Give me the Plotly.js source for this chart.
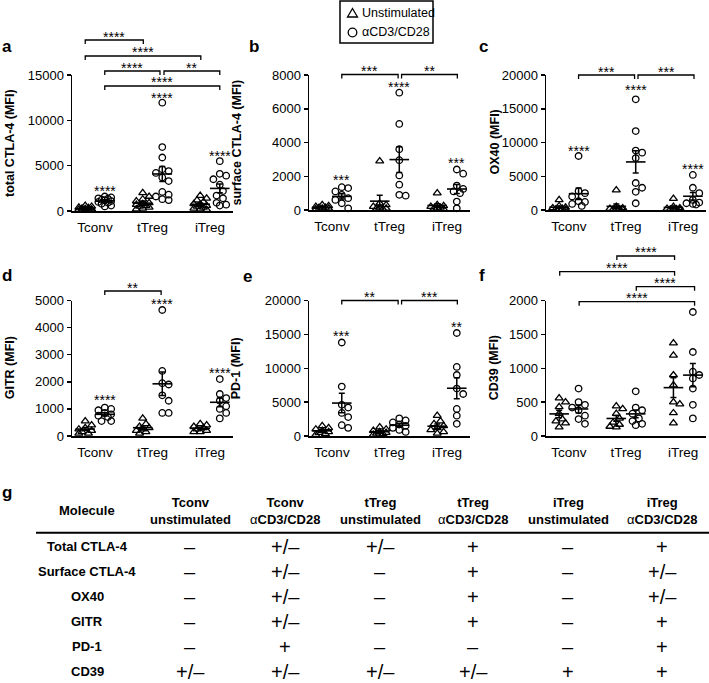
<!DOCTYPE html>
<html><head><meta charset="utf-8">
<script src="https://cdn.plot.ly/plotly-3.0.1.min.js"></script>
<style>html,body{margin:0;padding:0;background:#fff;} #chart{width:709px;height:683px;}</style>
</head><body><div id="chart"></div>
<script>
// ---------------- DATA ----------------
const groups = ['Tconv', 'tTreg', 'iTreg'];
const seriesNames = ['Unstimulated', 'αCD3/CD28'];

// a: total CTLA-4 (MFI)   [Tconv, tTreg, iTreg]
const totalCTLA4Unstim = [
  [600, 500, 400, 350, 300, 250, 200, 150, 150, 100, 100, 50],
  [2000, 1600, 1300, 1100, 900, 800, 700, 600, 500, 400, 300, 200],
  [1700, 1400, 1200, 1000, 800, 700, 600, 500, 400, 300, 200, 150]
];
const totalCTLA4Stim = [
  [1600, 1500, 1400, 1350, 1250, 1200, 1100, 1000, 900, 800, 600, 500],
  [11950, 7050, 5900, 4600, 4400, 4200, 3700, 3300, 2100, 1800, 1600, 1300, 1200],
  [5500, 4100, 3900, 3500, 2900, 2200, 1700, 1400, 900, 700, 600]
];
// b: surface CTLA-4 (MFI)
const surfaceCTLA4Unstim = [
  [300, 250, 200, 150, 150, 100, 100, 50],
  [2900, 400, 300, 200, 150, 100, 100, 50],
  [1000, 300, 250, 200, 150, 100, 100, 50]
];
const surfaceCTLA4Stim = [
  [1350, 1300, 1100, 900, 700, 600, 400, 100],
  [6950, 5100, 3600, 2950, 2050, 1500, 850, 900],
  [2400, 2150, 1450, 1250, 1100, 1000, 500, 100]
];
// c: OX40 (MFI)
const ox40Unstim = [
  [1500, 600, 400, 300, 200, 150, 100, 50],
  [2950, 500, 300, 200, 150, 100, 100, 50],
  [1700, 500, 300, 200, 150, 100, 50, 50]
];
const ox40Stim = [
  [8000, 2800, 2500, 2000, 1300, 1200, 900, 600],
  [16400, 11700, 8800, 8500, 7700, 4000, 3300, 2700, 1000],
  [5200, 3300, 2500, 1500, 1100, 1000, 900, 800]
];
// d: GITR (MFI)
const gitrUnstim = [
  [550, 400, 300, 250, 200, 150, 100, 100],
  [650, 450, 350, 300, 250, 200, 150, 100],
  [450, 400, 350, 300, 250, 200, 150, 150]
];
const gitrStim = [
  [1050, 1000, 950, 850, 800, 750, 700, 550, 550],
  [4650, 2400, 1950, 1900, 1500, 1300, 850, 850],
  [2100, 1550, 1400, 1300, 1100, 1000, 850, 650]
];
// e: PD-1 (MFI)
const pd1Unstim = [
  [1500, 1200, 1000, 800, 600, 500, 300, 200],
  [1300, 1000, 800, 600, 500, 400, 300, 200],
  [3000, 2200, 1800, 1500, 1200, 900, 600, 400]
];
const pd1Stim = [
  [13800, 7300, 4600, 4200, 3400, 2800, 1600, 1200],
  [2600, 2300, 2000, 1700, 1500, 1200, 900, 600],
  [15200, 10200, 9000, 7000, 6200, 4000, 3000, 1800]
];
// f: CD39 (MFI)
const cd39Unstim = [
  [560, 500, 430, 330, 250, 220, 190, 130],
  [440, 400, 330, 260, 200, 170, 140, 130],
  [1370, 1190, 900, 750, 500, 470, 340, 190]
];
const cd39Stim = [
  [700, 500, 460, 420, 380, 300, 250, 180],
  [660, 420, 380, 330, 260, 220, 180, 160],
  [1830, 1240, 950, 900, 850, 700, 460, 260]
];

// g: summary table
const tableMolecules = ['Total CTLA-4', 'Surface CTLA-4', 'OX40', 'GITR', 'PD-1', 'CD39'];
const tableCellTypes = ['Tconv', 'Tconv', 'tTreg', 'tTreg', 'iTreg', 'iTreg'];
const tableConditions = ['unstimulated', 'αCD3/CD28', 'unstimulated', 'αCD3/CD28', 'unstimulated', 'αCD3/CD28'];
const tableValues = [
  ['–', '+/–', '+/–', '+', '–', '+'],
  ['–', '+/–', '–', '+', '–', '+/–'],
  ['–', '+/–', '–', '+', '–', '+/–'],
  ['–', '+/–', '–', '+', '–', '+'],
  ['–', '+', '–', '–', '–', '+'],
  ['+/–', '+/–', '+/–', '+/–', '+', '+']
];

// ---------------- LAYOUT ----------------
const W = 709, H = 683;
const FONT = '"Liberation Sans", Arial, Helvetica, sans-serif';
const X = px => px / W, Y = py => 1 - py / H;
const XR = [0.6, 3.4];
const OFF = 0.17;

// stars: [groupIdx, seriesIdx, value, text]; brackets: [x1, x2, value, text]
const panels = [
  {letter: 'a', title: 'total CTLA-4 (MFI)', data: [totalCTLA4Unstim, totalCTLA4Stim], ymax: 15000, dtick: 5000,
   px: [72, 233], py: [75, 211], titleX: 10,
   stars: [[0, 1, 2537, '****'], [1, 1, 12850, '****'], [2, 1, 6507, '****']],
   brackets: [[0.83, 1.84, 18860, '****'], [0.83, 2.84, 17096, '****'], [1.17, 2.13, 15441, '****'], [2.2, 3.17, 15441, '**'], [1.17, 3.17, 13787, '****']]},
  {letter: 'b', title: 'surface CTLA-4 (MFI)', data: [surfaceCTLA4Unstim, surfaceCTLA4Stim], ymax: 8000, dtick: 2000,
   px: [309, 470], py: [75, 210], titleX: 236,
   stars: [[0, 1, 1973, '***'], [1, 1, 7467, '****'], [2, 1, 3022, '***']],
   brackets: [[1.17, 2.15, 8030, '***'], [2.21, 3.18, 8030, '**']]},
  {letter: 'c', title: 'OX40 (MFI)', data: [ox40Unstim, ox40Stim], ymax: 20000, dtick: 5000,
   px: [546, 706], py: [75, 210], titleX: 494,
   stars: [[0, 1, 9333, '****'], [1, 1, 18267, '****'], [2, 1, 6519, '****']],
   brackets: [[1.17, 2.15, 20000, '***'], [2.21, 3.19, 20000, '***']]},
  {letter: 'd', title: 'GITR (MFI)', data: [gitrUnstim, gitrStim], ymax: 5000, dtick: 1000,
   px: [72, 233], py: [300.5, 436], titleX: 10,
   stars: [[0, 1, 1450, '****'], [1, 1, 5000, '****'], [2, 1, 2461, '****']],
   brackets: [[1.17, 2.15, 5350, '**']]},
  {letter: 'e', title: 'PD-1 (MFI)', data: [pd1Unstim, pd1Stim], ymax: 20000, dtick: 5000,
   px: [309, 470], py: [300.5, 436], titleX: 236,
   stars: [[0, 1, 15250, '***'], [2, 1, 16630, '**']],
   brackets: [[1.17, 2.15, 20000, '**'], [2.21, 3.18, 20000, '***']]},
  {letter: 'f', title: 'CD39 (MFI)', data: [cd39Unstim, cd39Stim], ymax: 2000, dtick: 500,
   px: [546, 706], py: [300.5, 436], titleX: 494,
   stars: [],
   brackets: [[1.84, 2.85, 2657, '****'], [0.84, 2.85, 2425, '****'], [2.18, 3.2, 2204, '****'], [1.18, 3.2, 1982, '****']]}
];
const letterPos = {a: [0, 47], b: [247, 47], c: [477, 47], d: [0, 275], e: [241, 276], f: [477, 275]};

function mean(a) { return a.reduce((s, v) => s + v, 0) / a.length; }
function sem(a) { const m = mean(a); const v = a.reduce((s, x) => s + (x - m) * (x - m), 0) / (a.length - 1); return Math.sqrt(v / a.length); }

// beeswarm offsets in pixels (deterministic, from values)
function swarm(vals, pxPerY, diam, step, maxSteps) {
  const idx = vals.map((v, i) => i).sort((i, j) => vals[j] - vals[i]);
  const placed = [], off = new Array(vals.length).fill(0);
  idx.forEach(i => {
    const y = vals[i] * pxPerY;
    const cands = [0];
    for (let k = 1; k <= maxSteps; k++) cands.push(k * step, -k * step);
    let chosen = null, bestC = 0, bestD = -1;
    for (const c of cands) {
      let minD = Infinity;
      placed.forEach(p => { const d = Math.hypot(p.x - c, p.y - y); if (d < minD) minD = d; });
      if (minD >= diam) { chosen = c; break; }
      if (minD > bestD) { bestD = minD; bestC = c; }
    }
    if (chosen === null) chosen = bestC;
    placed.push({x: chosen, y: y});
    off[i] = chosen;
  });
  return off;
}

const traces = [], shapes = [], annotations = [];
const layout = {
  width: W, height: H, margin: {l: 0, r: 0, t: 0, b: 0},
  paper_bgcolor: '#fff', plot_bgcolor: 'rgba(0,0,0,0)', showlegend: false,
  font: {family: FONT, color: '#000', size: 13}
};

panels.forEach((p, k) => {
  const n = k + 1, sx = n === 1 ? '' : String(n);
  const xa = 'x' + sx, ya = 'y' + sx;
  const pxPerX = (p.px[1] - p.px[0]) / (XR[1] - XR[0]);
  const pxPerY = (p.py[1] - p.py[0]) / p.ymax;
  const xToPaper = x => X(p.px[0] + (x - XR[0]) * pxPerX);
  const yToPx = v => p.py[1] - v * pxPerY;

  layout['xaxis' + sx] = {
    domain: [X(p.px[0]), X(p.px[1])], range: XR, anchor: ya,
    showline: true, linecolor: '#000', linewidth: 1.5, showgrid: false, zeroline: false,
    tickvals: [1, 2, 3], ticktext: groups, ticks: '', ticklabelstandoff: 3,
    tickfont: {size: 13.5, family: FONT, color: '#000'}, fixedrange: true
  };
  layout['yaxis' + sx] = {
    domain: [Y(p.py[1]), Y(p.py[0])], range: [0, p.ymax], anchor: xa,
    showline: true, linecolor: '#000', linewidth: 1.5, showgrid: false, zeroline: false,
    tick0: 0, dtick: p.dtick, tickformat: 'd', ticks: 'outside', ticklen: 4, tickwidth: 1.5, tickcolor: '#000',
    tickfont: {size: 13, family: FONT, color: '#000'}, fixedrange: true
  };

  p.data.forEach((series, s) => {
    const sign = s === 0 ? -1 : 1;
    const symbol = s === 0 ? 'triangle-up-open' : 'circle-open';
    const xs = [], ys = [], mx = [], my = [], me = [];
    series.forEach((vals, g) => {
      const base = g + 1 + sign * OFF;
      const offs = swarm(vals, pxPerY, s === 0 ? 5.5 : 6.5, 3.2, 2);
      vals.forEach((v, i) => { xs.push(base + offs[i] / pxPerX); ys.push(v); });
      mx.push(base); my.push(mean(vals)); me.push(sem(vals));
    });
    traces.push({
      type: 'scatter', mode: 'markers', x: xs, y: ys, xaxis: xa, yaxis: ya, cliponaxis: false,
      name: seriesNames[s], hoverinfo: 'skip',
      marker: {symbol: symbol, size: s === 0 ? 7 : 6.5, color: '#000', line: {width: 1.3, color: '#000'}}
    });
    traces.push({
      type: 'scatter', mode: 'markers', x: mx, y: my, xaxis: xa, yaxis: ya, cliponaxis: false,
      hoverinfo: 'skip', showlegend: false,
      marker: {symbol: 'line-ew-open', size: 14, color: '#000', line: {width: 1.6, color: '#000'}},
      error_y: {type: 'data', array: me, visible: true, color: '#000', thickness: 1.5, width: 3}
    });
  });

  // stars above a group
  p.stars.forEach(st => {
    const x = st[0] + 1 + (st[1] === 0 ? -OFF : OFF);
    annotations.push({xref: 'paper', yref: 'paper', x: xToPaper(x), y: Y(yToPx(st[2]) + 3.5),
      text: st[3], showarrow: false, xanchor: 'center', yanchor: 'middle',
      font: {size: 14, family: FONT, color: '#000'}});
  });
  // brackets
  p.brackets.forEach(b => {
    const yp = yToPx(b[2]);
    const x1 = xToPaper(b[0]), x2 = xToPaper(b[1]);
    shapes.push({type: 'path', xref: 'paper', yref: 'paper',
      path: `M ${x1},${Y(yp + 4)} L ${x1},${Y(yp)} L ${x2},${Y(yp)} L ${x2},${Y(yp + 4)}`,
      line: {color: '#000', width: 1.3}});
    annotations.push({xref: 'paper', yref: 'paper', x: (x1 + x2) / 2, y: Y(yp - 7 + 3.5),
      text: b[3], showarrow: false, xanchor: 'center', yanchor: 'middle',
      font: {size: 14, family: FONT, color: '#000'}});
  });
  // y-axis title
  annotations.push({xref: 'paper', yref: 'paper', x: X(p.titleX), y: Y((p.py[0] + p.py[1]) / 2),
    text: '<b>' + p.title + '</b>', textangle: -90, showarrow: false, xanchor: 'center', yanchor: 'middle',
    font: {size: 12.5, family: FONT, color: '#000'}});
  // panel letter
  const lp = letterPos[p.letter];
  annotations.push({xref: 'paper', yref: 'paper', x: X(lp[0]), y: Y(lp[1]), text: '<b>' + p.letter + '</b>',
    showarrow: false, xanchor: 'left', yanchor: 'middle', font: {size: 17, family: FONT, color: '#000'}});
});

// legend (manual, boxed)
const LG = {x0: 340, x1: 433, y0: 1, y1: 43, sx: 352.5, tx: 360, rows: [13, 32.5]};
shapes.push({type: 'rect', xref: 'paper', yref: 'paper', x0: X(LG.x0), x1: X(LG.x1), y0: Y(LG.y1), y1: Y(LG.y0),
  line: {color: '#000', width: 1.5}, fillcolor: 'rgba(0,0,0,0)'});
shapes.push({type: 'path', xref: 'paper', yref: 'paper',
  path: `M ${X(LG.sx)},${Y(LG.rows[0] - 4.5)} L ${X(LG.sx + 5)},${Y(LG.rows[0] + 4)} L ${X(LG.sx - 5)},${Y(LG.rows[0] + 4)} Z`,
  line: {color: '#000', width: 1.3}});
shapes.push({type: 'circle', xref: 'paper', yref: 'paper', x0: X(LG.sx - 4.3), x1: X(LG.sx + 4.3),
  y0: Y(LG.rows[1] + 4.3), y1: Y(LG.rows[1] - 4.3), line: {color: '#000', width: 1.3}});
seriesNames.forEach((nm, i) => {
  annotations.push({xref: 'paper', yref: 'paper', x: X(LG.tx), y: Y(LG.rows[i]), text: nm, showarrow: false,
    xanchor: 'left', yanchor: 'middle', font: {size: 12.5, family: FONT, color: '#000'}});
});

// table g
annotations.push({xref: 'paper', yref: 'paper', x: X(0), y: Y(492), text: '<b>g</b>', showarrow: false,
  xanchor: 'left', yanchor: 'middle', font: {size: 17, family: FONT, color: '#000'}});
const colX = [87, 190, 285, 380, 473, 568, 662];
const headerY = 510.5, ruleY = 532.7, row0 = 546.5, rowStep = 25;
annotations.push({xref: 'paper', yref: 'paper', x: X(colX[0]), y: Y(headerY), text: '<b>Molecule</b>', showarrow: false,
  xanchor: 'center', yanchor: 'middle', font: {size: 13, family: FONT, color: '#000'}});
tableCellTypes.forEach((ct, j) => {
  const cond = tableConditions[j].startsWith('α') ? 'α<b>' + tableConditions[j].slice(1) + '</b>' : '<b>' + tableConditions[j] + '</b>';
  annotations.push({xref: 'paper', yref: 'paper', x: X(colX[j + 1]), y: Y(headerY), text: '<b>' + ct + '</b><br>' + cond,
    showarrow: false, xanchor: 'center', yanchor: 'middle', font: {size: 13, family: FONT, color: '#000'}});
});
shapes.push({type: 'line', xref: 'paper', yref: 'paper', x0: X(36), x1: X(709), y0: Y(ruleY), y1: Y(ruleY),
  line: {color: '#000', width: 2}});
tableMolecules.forEach((m, i) => {
  const yc = row0 + i * rowStep;
  annotations.push({xref: 'paper', yref: 'paper', x: X(colX[0]), y: Y(yc), text: '<b>' + m + '</b>', showarrow: false,
    xanchor: 'center', yanchor: 'middle', font: {size: 13, family: FONT, color: '#000'}});
  tableValues[i].forEach((v, j) => {
    annotations.push({xref: 'paper', yref: 'paper', x: X(colX[j + 1]), y: Y(yc), text: v, showarrow: false,
      xanchor: 'center', yanchor: 'middle', font: {size: 20, family: FONT, color: '#000'}});
  });
});

layout.shapes = shapes;
layout.annotations = annotations;
Plotly.newPlot('chart', traces, layout, {staticPlot: true, displayModeBar: false});
</script>
</body></html>
